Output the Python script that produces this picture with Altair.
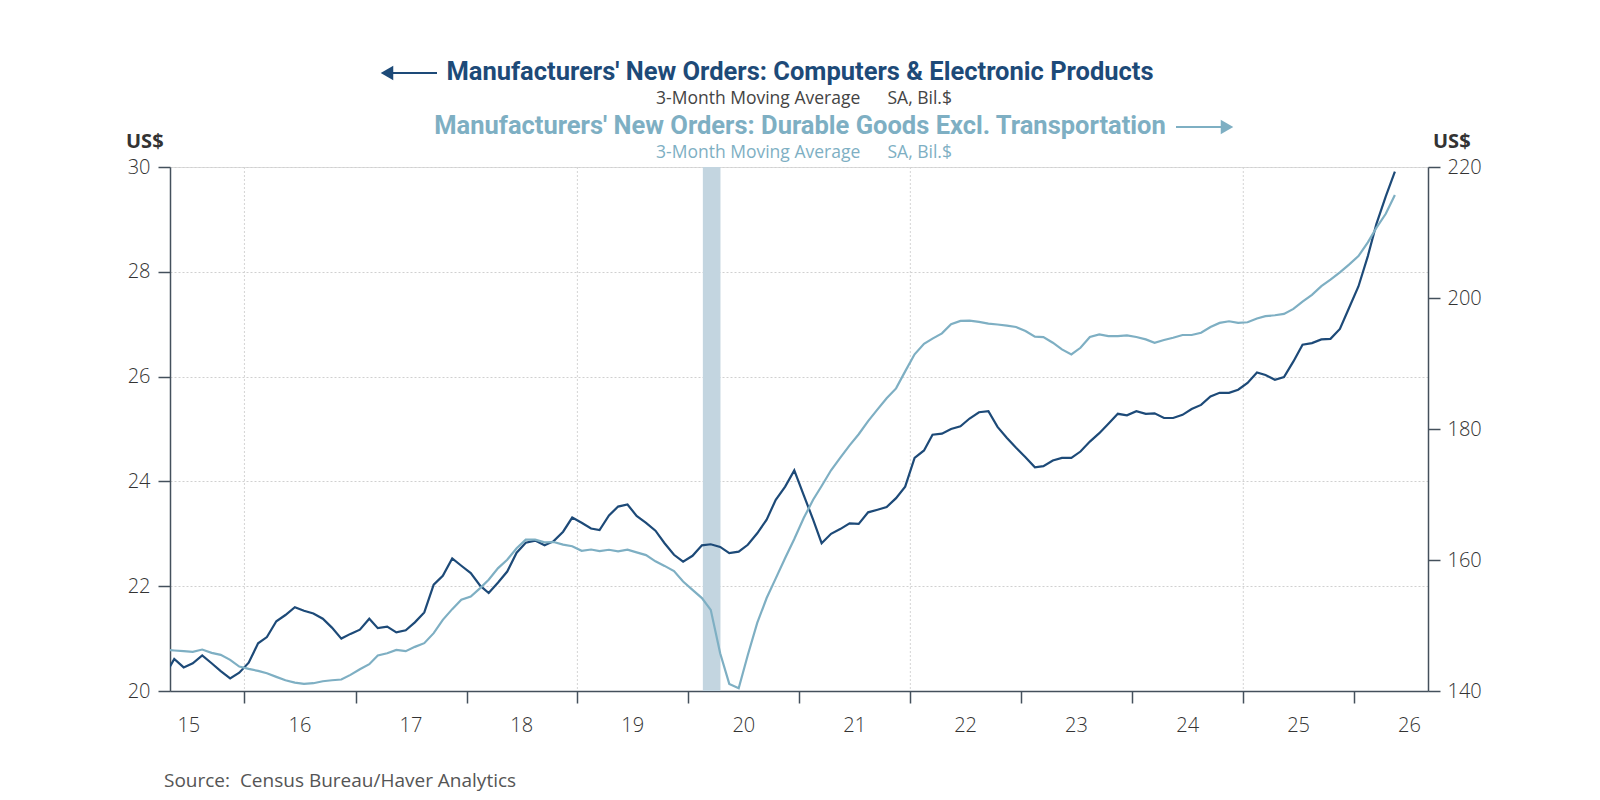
import altair as alt
import pandas as pd

# Monthly observations, Apr 2015 .. May 2026 (plotted mid-month)
start_month = "2015-04-01"

# Computers & Electronic Products, 3-month moving average, SA, Bil.$ (left axis)
computers = [
    20.30, 20.61, 20.45, 20.53, 20.68, 20.53, 20.38, 20.24, 20.35, 20.54,
    20.91, 21.03, 21.33, 21.45, 21.60, 21.53, 21.48, 21.38, 21.21, 21.00,
    21.09, 21.17, 21.38, 21.20, 21.23, 21.12, 21.16, 21.31, 21.50, 22.03,
    22.20, 22.53, 22.39, 22.25, 22.01, 21.87, 22.07, 22.28, 22.64, 22.83,
    22.87, 22.78, 22.86, 23.04, 23.31, 23.21, 23.10, 23.07, 23.35, 23.52,
    23.56, 23.34, 23.21, 23.06, 22.82, 22.60, 22.47, 22.58, 22.78, 22.80,
    22.75, 22.63, 22.66, 22.79, 23.01, 23.27, 23.65, 23.90, 24.21, 23.74,
    23.27, 22.82, 23.00, 23.09, 23.20, 23.19, 23.41, 23.46, 23.51, 23.68,
    23.90, 24.45, 24.59, 24.89, 24.91, 25.00, 25.05, 25.20, 25.32, 25.34,
    25.04, 24.83, 24.64, 24.46, 24.27, 24.29, 24.40, 24.45, 24.45, 24.57,
    24.76, 24.92, 25.10, 25.29, 25.26, 25.34, 25.29, 25.30, 25.21, 25.21,
    25.27, 25.38, 25.46, 25.62, 25.69, 25.69, 25.75, 25.88, 26.08, 26.03,
    25.94, 25.99, 26.29, 26.61, 26.64, 26.71, 26.72, 26.91, 27.31, 27.72,
    28.30, 28.91, 29.44, 29.91,
]

# Durable Goods Excl. Transportation, 3-month moving average, SA, Bil.$ (right axis)
durables = [
    146.28, 146.18, 146.08, 145.98, 146.33, 145.82, 145.52, 144.75, 143.73, 143.38,
    143.07, 142.72, 142.16, 141.64, 141.29, 141.09, 141.19, 141.49, 141.64, 141.75,
    142.46, 143.33, 144.09, 145.42, 145.77, 146.28, 146.08, 146.74, 147.30, 148.83,
    150.87, 152.50, 153.93, 154.43, 155.71, 156.98, 158.76, 160.04, 161.80, 163.10,
    163.10, 162.70, 162.75, 162.35, 162.10, 161.40, 161.60, 161.35, 161.56, 161.33,
    161.57, 161.16, 160.75, 159.80, 159.10, 158.30, 156.72, 155.45, 154.18, 152.39,
    145.77, 141.08, 140.42, 145.50, 150.40, 154.20, 157.20, 160.30, 163.20, 166.40,
    169.20, 171.30, 173.70, 175.60, 177.50, 179.20, 181.20, 183.00, 184.70, 186.20,
    188.80, 191.40, 193.00, 193.80, 194.60, 196.00, 196.50, 196.55, 196.35, 196.10,
    195.95, 195.77, 195.57, 194.96, 194.09, 194.04, 193.17, 192.15, 191.38, 192.40,
    194.04, 194.45, 194.19, 194.19, 194.30, 194.04, 193.68, 193.17, 193.58, 193.94,
    194.35, 194.35, 194.70, 195.57, 196.20, 196.45, 196.20, 196.30, 196.87, 197.22,
    197.37, 197.58, 198.34, 199.46, 200.48, 201.80, 202.80, 203.90, 205.10, 206.40,
    208.50, 210.70, 212.86, 215.71,
]

year_labels = ["15", "16", "17", "18", "19", "20", "21", "22", "23", "24", "25", "26"]
left_ticks = [20, 22, 24, 26, 28, 30]
right_ticks = [140, 160, 180, 200, 220]
grid_years = [2016, 2019, 2022, 2025]
recession = [{"start": "2020-02-18", "end": "2020-04-16"}]

DARK = "#1d4a78"
LIGHT = "#7eafc3"
AXIS = "#44505c"
TXT = "#333333"
FONT = "Open Sans"
TFONT = "Roboto"

W, H = 1258, 524

dates = (pd.date_range(start_month, periods=len(computers), freq="MS")
         + pd.Timedelta(days=14)).strftime("%Y-%m-%d")
df = pd.DataFrame({"date": dates, "computers": computers, "durables": durables})

years = [2015 + i for i in range(len(year_labels))]
labels_df = pd.DataFrame({"date": [f"{y}-07-02" for y in years], "label": year_labels})
grid_df = pd.DataFrame({"date": [f"{y}-01-01" for y in grid_years]})
rec_df = pd.DataFrame(recession)

xscale = alt.Scale(domain=[alt.DateTime(year=2015, month=5, date=1, utc=True),
                           alt.DateTime(year=2026, month=9, date=1, utc=True)])
xaxis = alt.Axis(
    values=[alt.DateTime(year=y, month=1, date=1, utc=True) for y in range(2016, 2027)],
    labels=False, ticks=True, tickSize=12, tickWidth=1.5, tickColor=AXIS,
    domainColor=AXIS, domainWidth=1.5, grid=False, title=None,
)

def xenc(field="date"):
    return alt.X(f"{field}:T", scale=xscale, axis=xaxis)

band = alt.Chart(rec_df).mark_rect(color="#c3d5e0").encode(
    x=xenc("start"), x2="end:T"
)

vgrid = alt.Chart(grid_df).mark_rule(color="#d4d4d4", strokeDash=[2, 2], strokeWidth=1).encode(
    x=xenc()
)

dark_line = alt.Chart(df).mark_line(color=DARK, strokeWidth=2.2, clip=True).encode(
    x=xenc(),
    y=alt.Y("computers:Q", scale=alt.Scale(domain=[20, 30], nice=False, zero=False),
            axis=alt.Axis(orient="left", values=left_ticks, title=None, grid=True,
                          gridDash=[2, 2], gridColor="#d0d0d0", tickSize=12, tickWidth=1.5,
                          tickColor=AXIS, domainColor=AXIS, domainWidth=1.5,
                          labelPadding=8, labelFont=FONT, labelFontSize=20,
                          labelFontWeight=300, labelColor=TXT)),
)

light_line = alt.Chart(df).mark_line(color=LIGHT, strokeWidth=2.2, clip=True).encode(
    x=xenc(),
    y=alt.Y("durables:Q", scale=alt.Scale(domain=[140, 220], nice=False, zero=False),
            axis=alt.Axis(orient="right", values=right_ticks, title=None, grid=False,
                          tickSize=12, tickWidth=1.5, tickColor=AXIS, domainColor=AXIS,
                          domainWidth=1.5, labelPadding=7, labelFont=FONT, labelFontSize=20,
                          labelFontWeight=300, labelColor=TXT)),
)

year_text = alt.Chart(labels_df).mark_text(
    font=FONT, fontSize=20, fontWeight=300, color=TXT, baseline="middle", align="center"
).encode(x=xenc(), y=alt.value(H + 35), text="label:N")

one = pd.DataFrame({"k": [0]})

def label(text, x, y, size, color, weight="normal", align="center", font=FONT):
    return alt.Chart(one).mark_text(
        text=text, font=font, fontSize=size, fontWeight=weight, color=color,
        align=align, baseline="alphabetic"
    ).encode(x=alt.value(x), y=alt.value(y))

gap = "\u00a0" * 6
texts = [
    label("Manufacturers' New Orders: Computers & Electronic Products", 630, -87, 25.5, DARK, "bold", font=TFONT),
    label("3-Month Moving Average" + gap + "SA, Bil.$", 634, -63, 17.5, "#444444"),
    label("Manufacturers' New Orders: Durable Goods Excl. Transportation", 630, -33, 25.5, LIGHT, "bold", font=TFONT),
    label("3-Month Moving Average" + gap + "SA, Bil.$", 634, -9, 17.5, LIGHT),
    label("US$", -44, -19, 20, TXT, "bold", align="left"),
    label("US$", W + 5, -19, 20, TXT, "bold", align="left"),
    label("Source:\u00a0\u00a0Census Bureau/Haver Analytics", -6, H + 96, 19, "#555555", align="left"),
]

def arrow(x1, x2, y, color, head_x, shape):
    shaft = alt.Chart(one).mark_rule(color=color, strokeWidth=2.2).encode(
        x=alt.value(x1), x2=alt.value(x2), y=alt.value(y)
    )
    head = alt.Chart(one).mark_point(shape=shape, filled=True, color=color, size=210, opacity=1).encode(
        x=alt.value(head_x), y=alt.value(y)
    )
    return [shaft, head]

arrows = arrow(216, 267, -94, DARK, 217, "triangle-left") + arrow(1006, 1058, -40, LIGHT, 1057, "triangle-right")

chart = alt.layer(
    band, vgrid, dark_line, light_line, year_text, *texts, *arrows
).resolve_scale(y="independent").properties(
    width=W, height=H,
    padding={"left": 170, "top": 167, "right": 172, "bottom": 109},
    autosize=alt.AutoSizeParams(type="none"),
).configure_view(stroke=None).configure(background="white")

chart.save("out.html", embed_options={"renderer": "svg", "actions": False})
